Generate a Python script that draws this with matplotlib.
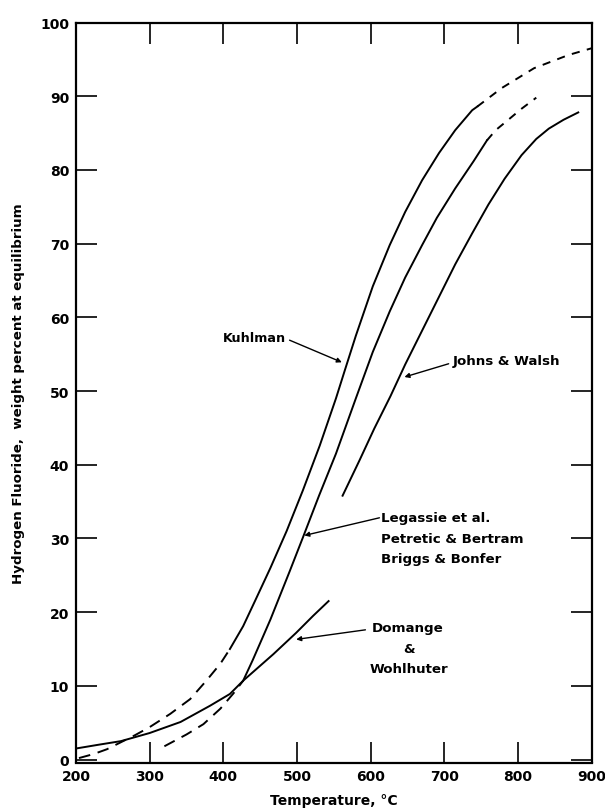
import matplotlib
matplotlib.use("Agg")
import matplotlib.pyplot as plt

# ---------------- data ----------------
# Kuhlman
kuhl_lo_x = [204, 224, 242, 258, 280, 300, 328, 355, 377, 396, 409]
kuhl_lo_y = [0.2, 0.75, 1.4, 2.2, 3.3, 4.4, 6.2, 8.2, 10.7, 13.0, 15.0]
kuhl_x = [409, 427, 443, 464, 486, 508, 531, 553, 565, 580, 603, 626, 647, 670, 693, 715, 738, 745]
kuhl_y = [15.0, 18.1, 21.5, 26.0, 31.0, 36.5, 42.6, 49.0, 52.8, 57.5, 64.2, 69.8, 74.3, 78.6, 82.3, 85.4, 88.1, 88.6]
kuhl_hi_x = [745, 778, 822, 869, 900]
kuhl_hi_y = [88.6, 91.1, 93.8, 95.6, 96.5]

# Legassie et al. / Petretic & Bertram / Briggs & Bonfer
leg_lo_x = [320, 350, 373, 396, 414, 427]
leg_lo_y = [1.8, 3.4, 4.8, 6.9, 9.0, 10.7]
leg_x = [427, 440, 454, 464, 472, 490, 508, 530, 553, 580, 603, 626, 647, 670, 690, 715, 740, 758]
leg_y = [10.7, 13.5, 16.7, 19.0, 21.0, 25.5, 30.1, 35.8, 41.5, 49.0, 55.3, 60.8, 65.4, 69.8, 73.5, 77.5, 81.2, 84.0]
leg_hi_x = [758, 770, 787, 805, 825]
leg_hi_y = [84.0, 85.4, 86.8, 88.3, 89.8]

# Johns & Walsh
jw_x = [562, 585, 605, 627, 647, 670, 693, 715, 738, 760, 782, 805, 825, 842, 862, 882]
jw_y = [35.8, 40.6, 44.9, 49.3, 53.6, 58.2, 62.8, 67.2, 71.4, 75.3, 78.8, 82.0, 84.2, 85.6, 86.8, 87.8]

# Domange & Wohlhuter
dom_x = [200, 230, 261, 300, 342, 382, 409, 427, 468, 499, 522, 543]
dom_y = [1.5, 2.0, 2.5, 3.6, 5.1, 7.3, 8.9, 10.7, 14.3, 17.2, 19.5, 21.5]

x_ticks = [200, 300, 400, 500, 600, 700, 800, 900]
y_ticks = [0, 10, 20, 30, 40, 50, 60, 70, 80, 90, 100]

# ---------------- figure ----------------
plt.rcParams['font.family'] = ['DejaVu Sans']
fig = plt.figure(figsize=(6.05, 8.12), dpi=100)
ax = fig.add_axes([76 / 605, 1 - 763.5 / 812, (591.5 - 76) / 605, (763.5 - 23.5) / 812])

lw = 1.4
c = 'black'
dash_lo = (0, (6.0, 4.0))
dash_hi = (0, (4.2, 3.8))

ax.plot(kuhl_lo_x, kuhl_lo_y, color=c, lw=lw, ls=dash_lo)
ax.plot(kuhl_x, kuhl_y, color=c, lw=lw)
ax.plot(kuhl_hi_x, kuhl_hi_y, color=c, lw=lw, ls=dash_hi)

ax.plot(leg_lo_x, leg_lo_y, color=c, lw=lw, ls=dash_lo)
ax.plot(leg_x, leg_y, color=c, lw=lw)
ax.plot(leg_hi_x, leg_hi_y, color=c, lw=lw, ls=dash_hi)

ax.plot(jw_x, jw_y, color=c, lw=lw)
ax.plot(dom_x, dom_y, color=c, lw=lw)

ax.set_xlim(200, 900)
ax.set_ylim(-0.4, 100)
ax.set_xticks(x_ticks)
ax.set_yticks(y_ticks)
ax.set_xticklabels([str(v) for v in x_ticks])
ax.set_yticklabels([str(v) for v in y_ticks])

ax.tick_params(axis='both', which='major', direction='in', length=15, width=1.2,
               top=True, right=True, labelsize=10, pad=5)
for lab in ax.get_xticklabels() + ax.get_yticklabels():
    lab.set_fontweight('bold')
for s in ax.spines.values():
    s.set_linewidth(1.6)

ax.set_xlabel('Temperature, \u00b0C', fontsize=10, fontweight='bold', labelpad=7)
ax.set_ylabel('Hydrogen Fluoride,  weight percent at equilibrium', fontsize=9.6,
              fontweight='bold', labelpad=11)

# ---------------- annotations ----------------
fs = 9.6
arrow = dict(arrowstyle='-|>', lw=1.0, color=c, mutation_scale=7, shrinkA=0, shrinkB=0)

ax.text(485, 57.3, 'Kuhlman', ha='right', va='center', fontsize=fs - 0.4, fontweight='bold')
ax.annotate('', xy=(561, 53.9), xytext=(490, 56.9), arrowprops=arrow)

ax.text(711, 54.1, 'Johns & Walsh', ha='left', va='center', fontsize=fs, fontweight='bold')
ax.annotate('', xy=(646, 51.9), xytext=(706, 53.7), arrowprops=arrow)

ax.text(614, 32.8, 'Legassie et al.', ha='left', va='center', fontsize=fs, fontweight='bold')
ax.text(614, 30.0, 'Petretic & Bertram', ha='left', va='center', fontsize=fs, fontweight='bold')
ax.text(614, 27.3, 'Briggs & Bonfer', ha='left', va='center', fontsize=fs, fontweight='bold')
ax.annotate('', xy=(510, 30.4), xytext=(612, 32.8), arrowprops=arrow)

ax.text(650, 17.9, 'Domange', ha='center', va='center', fontsize=fs, fontweight='bold')
ax.text(652, 15.0, '&', ha='center', va='center', fontsize=fs, fontweight='bold')
ax.text(652, 12.4, 'Wohlhuter', ha='center', va='center', fontsize=fs, fontweight='bold')
ax.annotate('', xy=(499, 16.3), xytext=(593, 17.6), arrowprops=arrow)

fig.savefig('out.png', dpi=100)
